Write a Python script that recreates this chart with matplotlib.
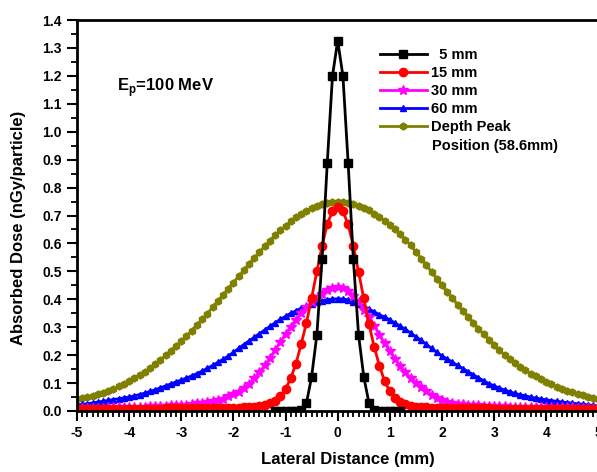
import matplotlib
matplotlib.use("Agg")
import matplotlib.pyplot as plt
from matplotlib.ticker import MultipleLocator, FormatStrFormatter

plt.rcParams["font.family"] = ["Liberation Sans", "DejaVu Sans"]
plt.rcParams["font.weight"] = "bold"
plt.rcParams["axes.unicode_minus"] = False
plt.rcParams["mathtext.fontset"] = "custom"
plt.rcParams["mathtext.rm"] = "Liberation Sans:bold"
plt.rcParams["mathtext.bf"] = "Liberation Sans:bold"

# lateral positions (mm)
lateral = [-5.0, -4.9, -4.8, -4.7, -4.6, -4.5, -4.4, -4.3, -4.2, -4.1,
           -4.0, -3.9, -3.8, -3.7, -3.6, -3.5, -3.4, -3.3, -3.2, -3.1,
           -3.0, -2.9, -2.8, -2.7, -2.6, -2.5, -2.4, -2.3, -2.2, -2.1,
           -2.0, -1.9, -1.8, -1.7, -1.6, -1.5, -1.4, -1.3, -1.2, -1.1,
           -1.0, -0.9, -0.8, -0.7, -0.6, -0.5, -0.4, -0.3, -0.2, -0.1,
           0.0,
           0.1, 0.2, 0.3, 0.4, 0.5, 0.6, 0.7, 0.8, 0.9, 1.0,
           1.1, 1.2, 1.3, 1.4, 1.5, 1.6, 1.7, 1.8, 1.9, 2.0,
           2.1, 2.2, 2.3, 2.4, 2.5, 2.6, 2.7, 2.8, 2.9, 3.0,
           3.1, 3.2, 3.3, 3.4, 3.5, 3.6, 3.7, 3.8, 3.9, 4.0,
           4.1, 4.2, 4.3, 4.4, 4.5, 4.6, 4.7, 4.8, 4.9, 5.0]

lateral_5mm = [-1.2, -1.1, -1.0, -0.9, -0.8, -0.7, -0.6, -0.5, -0.4, -0.3, -0.2, -0.1,
               0.0,
               0.1, 0.2, 0.3, 0.4, 0.5, 0.6, 0.7, 0.8, 0.9, 1.0, 1.1, 1.2]

dose_5mm = [0.0, 0.0, 0.0, 0.0, 0.0, 0.003, 0.028, 0.123, 0.272, 0.544, 0.889, 1.200,
            1.326,
            1.200, 0.889, 0.544, 0.272, 0.123, 0.028, 0.003, 0.0, 0.0, 0.0, 0.0, 0.0]

dose_15mm = [0.006, 0.006, 0.006, 0.006, 0.007, 0.007, 0.007, 0.007, 0.007, 0.007,
             0.008, 0.008, 0.008, 0.008, 0.008, 0.008, 0.008, 0.009, 0.009, 0.009,
             0.009, 0.009, 0.009, 0.009, 0.010, 0.010, 0.010, 0.010, 0.011, 0.011,
             0.012, 0.012, 0.013, 0.014, 0.016, 0.018, 0.021, 0.028, 0.037, 0.052,
             0.078, 0.118, 0.170, 0.240, 0.315, 0.405, 0.500, 0.590, 0.670, 0.715,
             0.730,
             0.715, 0.668, 0.590, 0.498, 0.403, 0.310, 0.230, 0.162, 0.107, 0.070,
             0.046, 0.032, 0.024, 0.019, 0.016, 0.014, 0.013, 0.012, 0.011, 0.011,
             0.010, 0.010, 0.010, 0.010, 0.009, 0.009, 0.009, 0.009, 0.009, 0.008,
             0.008, 0.008, 0.008, 0.008, 0.008, 0.007, 0.007, 0.007, 0.007, 0.007,
             0.007, 0.007, 0.006, 0.006, 0.006, 0.006, 0.006, 0.006, 0.006, 0.006]

dose_30mm = [0.010, 0.010, 0.011, 0.011, 0.012, 0.012, 0.013, 0.013, 0.014, 0.014,
             0.015, 0.015, 0.016, 0.016, 0.017, 0.017, 0.018, 0.019, 0.020, 0.021,
             0.022, 0.023, 0.025, 0.027, 0.029, 0.031, 0.035, 0.039, 0.044, 0.052,
             0.060, 0.069, 0.082, 0.098, 0.117, 0.139, 0.163, 0.189, 0.218, 0.247,
             0.275, 0.302, 0.327, 0.350, 0.371, 0.390, 0.405, 0.420, 0.432, 0.440,
             0.444,
             0.441, 0.430, 0.412, 0.389, 0.363, 0.335, 0.305, 0.273, 0.243, 0.214,
             0.186, 0.160, 0.138, 0.117, 0.099, 0.085, 0.070, 0.057, 0.046, 0.039,
             0.034, 0.029, 0.026, 0.024, 0.022, 0.021, 0.020, 0.019, 0.018, 0.018,
             0.017, 0.017, 0.016, 0.016, 0.016, 0.015, 0.015, 0.015, 0.014, 0.014,
             0.014, 0.013, 0.013, 0.013, 0.013, 0.012, 0.012, 0.012, 0.012, 0.011]

dose_60mm = [0.022, 0.024, 0.026, 0.029, 0.032, 0.035, 0.038, 0.041, 0.044, 0.047,
             0.050, 0.054, 0.059, 0.064, 0.070, 0.076, 0.083, 0.090, 0.097, 0.104,
             0.111, 0.118, 0.126, 0.134, 0.143, 0.153, 0.163, 0.174, 0.185, 0.197,
             0.210, 0.224, 0.238, 0.251, 0.264, 0.277, 0.290, 0.303, 0.316, 0.328,
             0.339, 0.350, 0.359, 0.368, 0.376, 0.383, 0.389, 0.394, 0.398, 0.401,
             0.402,
             0.401, 0.398, 0.392, 0.384, 0.375, 0.365, 0.355, 0.345, 0.336, 0.326,
             0.315, 0.304, 0.292, 0.279, 0.266, 0.253, 0.239, 0.224, 0.210, 0.197,
             0.186, 0.175, 0.163, 0.152, 0.141, 0.130, 0.119, 0.108, 0.098, 0.090,
             0.082, 0.075, 0.069, 0.063, 0.058, 0.054, 0.050, 0.046, 0.043, 0.040,
             0.037, 0.035, 0.032, 0.030, 0.028, 0.026, 0.024, 0.022, 0.020, 0.018]

dose_peak = [0.044, 0.047, 0.051, 0.055, 0.060, 0.066, 0.072, 0.080, 0.088, 0.097,
             0.107, 0.118, 0.129, 0.141, 0.154, 0.168, 0.183, 0.199, 0.216, 0.233,
             0.250, 0.269, 0.288, 0.308, 0.328, 0.349, 0.371, 0.393, 0.415, 0.438,
             0.460, 0.482, 0.504, 0.527, 0.548, 0.569, 0.590, 0.610, 0.629, 0.647,
             0.663, 0.679, 0.693, 0.706, 0.717, 0.727, 0.735, 0.741, 0.746, 0.749,
             0.750,
             0.749, 0.746, 0.741, 0.735, 0.727, 0.718, 0.707, 0.695, 0.682, 0.667,
             0.651, 0.633, 0.614, 0.593, 0.570, 0.546, 0.522, 0.498, 0.474, 0.450,
             0.427, 0.404, 0.381, 0.359, 0.337, 0.316, 0.295, 0.275, 0.256, 0.237,
             0.218, 0.200, 0.185, 0.171, 0.158, 0.146, 0.134, 0.124, 0.114, 0.104,
             0.095, 0.087, 0.080, 0.073, 0.067, 0.061, 0.056, 0.051, 0.047, 0.043]

fig = plt.figure(figsize=(5.97, 4.72), dpi=100)
ax = fig.add_axes([77 / 597, 61 / 472, 521.4 / 597, 391 / 472])

# drawn bottom to top
h_peak, = ax.plot(lateral, dose_peak, color="#808000", marker="h", ms=5, lw=2)
h60, = ax.plot(lateral, dose_60mm, color="#0000FF", marker="^", ms=5, lw=2)
h30, = ax.plot(lateral, dose_30mm, color="#FF00FF", marker="*", ms=7, lw=2)
h15, = ax.plot(lateral, dose_15mm, color="#FF0000", marker="o", ms=6, lw=2)
h5, = ax.plot(lateral_5mm, dose_5mm, color="#000000", marker="s", ms=5.5, lw=2)

ax.set_xlim(-5, 5)
ax.set_ylim(0, 1.4)
ax.xaxis.set_major_locator(MultipleLocator(1))
ax.xaxis.set_minor_locator(MultipleLocator(0.1))
ax.yaxis.set_major_locator(MultipleLocator(0.1))
ax.yaxis.set_minor_locator(MultipleLocator(0.05))
ax.yaxis.set_major_formatter(FormatStrFormatter("%.1f"))
ax.tick_params(which="major", direction="out", length=7, width=1.5,
               labelsize=10, pad=4)
ax.tick_params(which="minor", direction="out", length=4, width=1.3)
for sp in ax.spines.values():
    sp.set_linewidth(2)

ax.set_xlabel("Lateral Distance (mm)", fontsize=12, fontweight="bold")
ax.set_ylabel("Absorbed Dose (nGy/particle)", fontsize=12, fontweight="bold")
ax.xaxis.set_label_coords(0.52, -0.105)
ax.yaxis.set_label_coords(-0.098, 0.468)

ax.text(117 / 597, 1 - 88 / 472, r"E$_{\mathrm{p}}$=100 MeV", transform=fig.transFigure,
        fontsize=12, fontweight="bold", ha="left", va="center")

ax.legend([h5, h15, h30, h60, h_peak],
          ["  5 mm", "15 mm", "30 mm", "60 mm", "Depth Peak"],
          loc="upper left", bbox_to_anchor=(380 / 597, 1 - 48 / 472),
          bbox_transform=fig.transFigure, frameon=False, numpoints=1,
          borderpad=0, borderaxespad=0, handlelength=3.2, handletextpad=0.3,
          labelspacing=0.28, prop={"size": 10.5, "weight": "bold"})
fig.text(432 / 597, 1 - 146 / 472, "Position (58.6mm)", fontsize=10.5,
         fontweight="bold", ha="left", va="center")

fig.savefig("out.png", dpi=100)
